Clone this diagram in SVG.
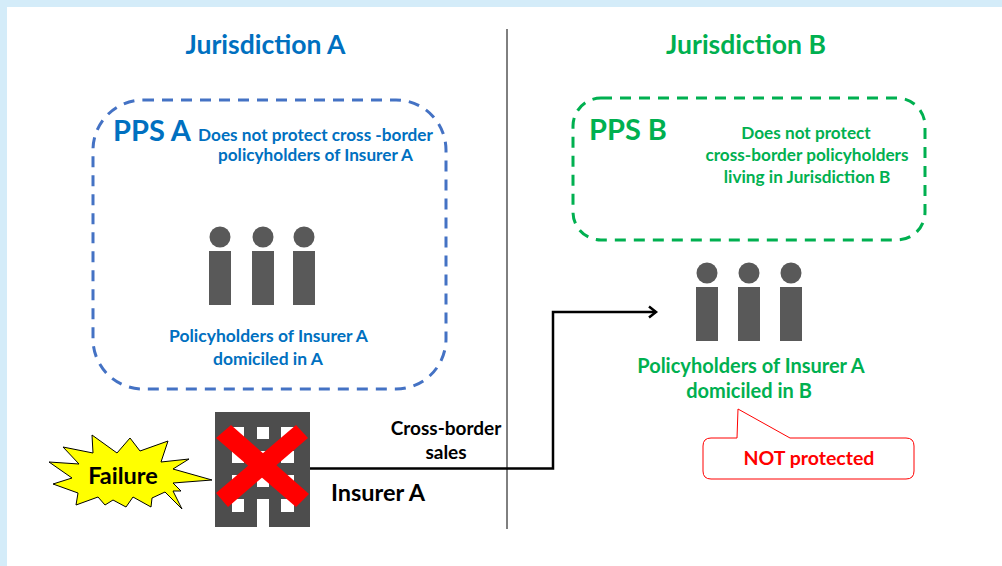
<svg xmlns="http://www.w3.org/2000/svg" width="1002" height="566" viewBox="0 0 1002 566">
<style>
text{font-family:Lato,Carlito,"Open Sans",sans-serif;font-weight:700;text-anchor:middle}
.a{fill:#0070c0}.b{fill:#00b050}.k{fill:#000}
.t{font-size:26.500px}.m{font-size:17.200px}.h{font-size:17.500px}.p{font-size:29px}.g{font-size:20px}
.pp{fill:#595959}
.win{fill:#fff}
</style>
<defs>
<g id="person"><circle cx="0" cy="0" r="10.500"/><rect x="-11" y="14" width="22" height="54"/></g>
<marker id="arr" markerUnits="userSpaceOnUse" markerWidth="14" markerHeight="14" refX="10" refY="7" orient="auto"><path d="M3 1.500L10 7L3 12.500" fill="none" stroke="#000" stroke-width="2.500"/></marker>
</defs>
<rect width="1002" height="566" fill="#d4ecf9"/>
<rect x="7" y="7" width="995" height="559" fill="#fff"/>
<g id="connectors">
<line x1="507" y1="29" x2="507" y2="529" stroke="#000" stroke-width="1"/>
<path d="M310 468.500H553V312H656" fill="none" stroke="#000" stroke-width="2.500" marker-end="url(#arr)"/>
</g>
<g id="jurisdiction-a"><text class="a t" x="265.500" y="54">Jurisdiction A</text></g>
<g id="jurisdiction-b"><text class="b t" x="746" y="54">Jurisdiction B</text></g>
<g id="pps-a">
<rect x="93" y="100" width="353" height="289" rx="50" fill="none" stroke="#4472c4" stroke-width="3" stroke-dasharray="11 8"/>
<text class="a p" x="152" y="141">PPS A</text>
<text class="a m" x="315.500" y="140.500">Does not protect cross -border</text>
<text class="a m" x="315.500" y="161">policyholders of Insurer A</text>
</g>
<g id="pps-b">
<rect x="573" y="98" width="352" height="142" rx="28" fill="none" stroke="#00b050" stroke-width="3" stroke-dasharray="11 8"/>
<text class="b p" x="628" y="140">PPS B</text>
<text class="b m" x="806" y="139">Does not protect</text>
<text class="b m" x="807" y="161">cross-border policyholders</text>
<text class="b m" x="807" y="183">living in Jurisdiction B</text>
</g>
<g id="policyholders-a">
<g class="pp"><use href="#person" x="220" y="237"/><use href="#person" x="263" y="237"/><use href="#person" x="304" y="237"/></g>
<text class="a h" x="268.500" y="342">Policyholders of Insurer A</text>
<text class="a h" x="268" y="365">domiciled in A</text>
</g>
<g id="policyholders-b">
<g class="pp"><use href="#person" x="707" y="273"/><use href="#person" x="749" y="273"/><use href="#person" x="791" y="273"/></g>
<text class="b g" x="751" y="373">Policyholders of Insurer A</text>
<text class="b g" x="749" y="398">domiciled in B</text>
</g>
<g id="failure">
<polygon points="92,435 93,453 63,447 79,464 49,462 72,478 53,484 78,493 76,505 98,497 105,505 113,500 126,507 133,497 151,507 152,498 165,492 182,509 173,491 181,491 173,483 212,480 173,469 189,459 161,462 168,441 140,451 130,438 117,453" fill="#ff0" stroke="#000" stroke-width="1"/>
<text class="k" x="123" y="484" font-size="23.500">Failure</text>
</g>
<g id="insurer-a">
<rect x="215" y="412" width="95" height="115" fill="#4d4d4d"/>
<g class="win">
<rect x="232" y="427" width="12" height="12"/><rect x="257" y="427" width="12" height="12"/><rect x="281" y="427" width="13" height="12"/>
<rect x="232" y="451" width="12" height="12"/><rect x="257" y="451" width="12" height="12"/><rect x="281" y="451" width="13" height="12"/>
<rect x="232" y="475" width="12" height="12"/><rect x="257" y="475" width="12" height="12"/><rect x="281" y="475" width="13" height="12"/>
<rect x="232" y="499" width="12" height="13"/><rect x="257" y="499" width="12" height="28"/><rect x="281" y="499" width="13" height="13"/>
</g>
<polygon points="216,438 231,425 309,494 296,507" fill="#f00"/>
<polygon points="308,438 296,425 216,493 228,507" fill="#f00"/>
<text class="k" x="378" y="501" font-size="23.500">Insurer A</text>
</g>
<g id="cross-border-label">
<text class="k" font-size="19" x="446" y="435">Cross-border</text>
<text class="k" font-size="19" x="446" y="459">sales</text>
</g>
<g id="not-protected">
<path d="M738 409L737 438H711Q703 438 703 446V471Q703 479 711 479H906Q914 479 914 471V446Q914 438 906 438H790Z" fill="#fff" stroke="#f00" stroke-width="1"/>
<text x="809" y="465" font-size="19.500" fill="#f00">NOT protected</text>
</g>
</svg>
